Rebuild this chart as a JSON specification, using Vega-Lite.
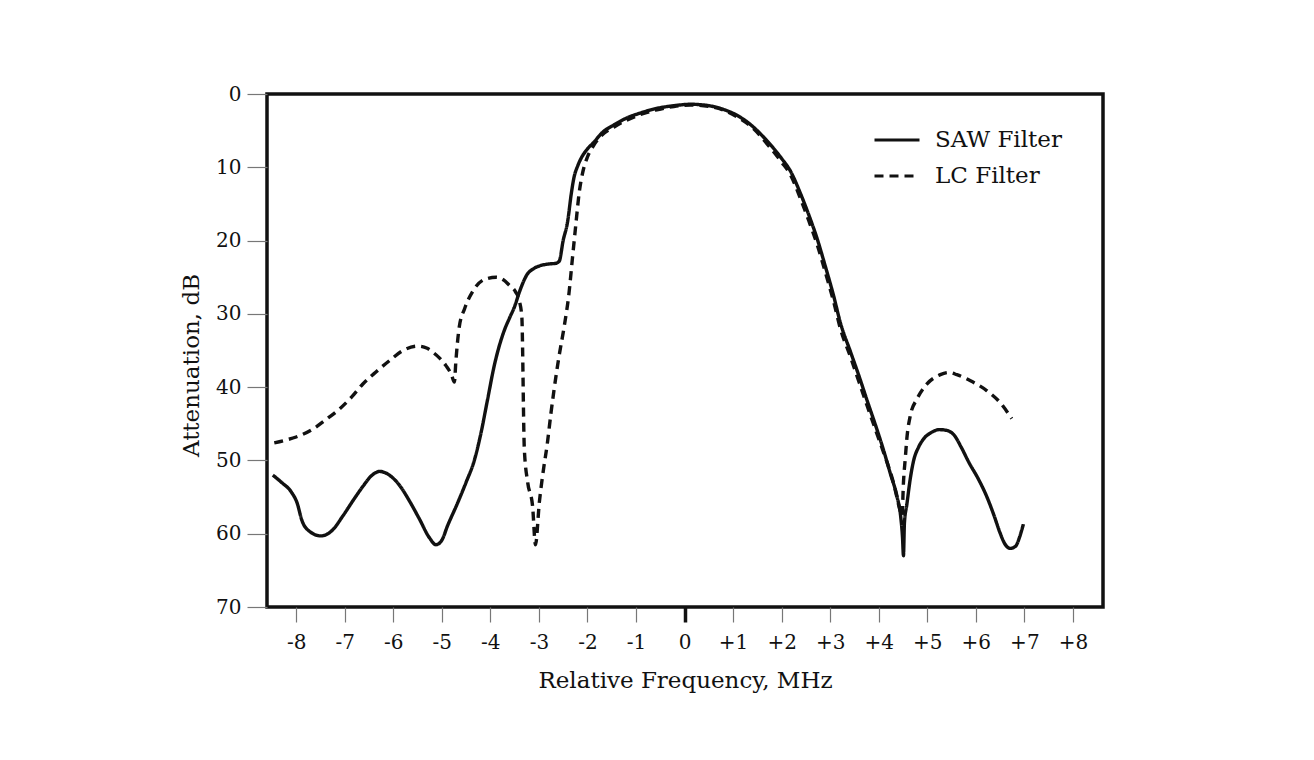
{
  "$schema": "https://vega.github.io/schema/vega-lite/v6.json",
  "width": 836,
  "height": 513,
  "autosize": {"type": "none"},
  "padding": {"left": 267, "top": 94, "right": 211, "bottom": 153},
  "background": "white",
  "config": {
    "font": "DejaVu Serif",
    "view": {"stroke": "#111", "strokeWidth": 3.5},
    "legend": {
      "orient": "none",
      "legendX": 606,
      "legendY": 22,
      "padding": 0,
      "symbolType": "stroke",
      "symbolSize": 2025,
      "symbolStrokeWidth": 3,
      "symbolStrokeColor": "#111",
      "labelFont": "DejaVu Serif",
      "labelFontSize": 23,
      "labelColor": "#111",
      "labelOffset": 14,
      "rowPadding": -8
    }
  },
  "data": {
    "values": [
      {"f": "SAW Filter", "x": -8.48, "y": 52.0},
      {"f": "SAW Filter", "x": -8.3, "y": 53.0},
      {"f": "SAW Filter", "x": -8.1, "y": 54.3},
      {"f": "SAW Filter", "x": -7.98, "y": 55.8},
      {"f": "SAW Filter", "x": -7.88, "y": 58.2},
      {"f": "SAW Filter", "x": -7.72, "y": 59.7},
      {"f": "SAW Filter", "x": -7.49, "y": 60.3},
      {"f": "SAW Filter", "x": -7.25, "y": 59.5},
      {"f": "SAW Filter", "x": -7.04, "y": 57.6},
      {"f": "SAW Filter", "x": -6.82, "y": 55.4},
      {"f": "SAW Filter", "x": -6.62, "y": 53.5},
      {"f": "SAW Filter", "x": -6.45, "y": 52.1},
      {"f": "SAW Filter", "x": -6.28, "y": 51.5},
      {"f": "SAW Filter", "x": -6.08, "y": 52.0},
      {"f": "SAW Filter", "x": -5.87, "y": 53.4},
      {"f": "SAW Filter", "x": -5.66, "y": 55.6},
      {"f": "SAW Filter", "x": -5.46, "y": 58.0},
      {"f": "SAW Filter", "x": -5.25, "y": 60.6},
      {"f": "SAW Filter", "x": -5.12, "y": 61.5},
      {"f": "SAW Filter", "x": -5.0, "y": 60.9},
      {"f": "SAW Filter", "x": -4.88, "y": 58.9},
      {"f": "SAW Filter", "x": -4.68, "y": 55.9},
      {"f": "SAW Filter", "x": -4.5, "y": 53.0},
      {"f": "SAW Filter", "x": -4.33, "y": 50.0},
      {"f": "SAW Filter", "x": -4.2, "y": 46.5},
      {"f": "SAW Filter", "x": -4.06, "y": 41.8},
      {"f": "SAW Filter", "x": -3.92, "y": 37.1},
      {"f": "SAW Filter", "x": -3.72, "y": 32.4},
      {"f": "SAW Filter", "x": -3.6, "y": 30.5},
      {"f": "SAW Filter", "x": -3.5, "y": 29.0},
      {"f": "SAW Filter", "x": -3.4, "y": 27.0},
      {"f": "SAW Filter", "x": -3.24, "y": 24.6},
      {"f": "SAW Filter", "x": -3.1, "y": 23.8},
      {"f": "SAW Filter", "x": -2.96, "y": 23.4},
      {"f": "SAW Filter", "x": -2.8, "y": 23.2},
      {"f": "SAW Filter", "x": -2.65, "y": 23.1},
      {"f": "SAW Filter", "x": -2.58, "y": 22.8},
      {"f": "SAW Filter", "x": -2.5, "y": 20.0},
      {"f": "SAW Filter", "x": -2.41, "y": 17.5},
      {"f": "SAW Filter", "x": -2.33, "y": 13.5},
      {"f": "SAW Filter", "x": -2.28, "y": 11.5},
      {"f": "SAW Filter", "x": -2.2, "y": 9.8},
      {"f": "SAW Filter", "x": -2.14, "y": 8.9},
      {"f": "SAW Filter", "x": -2.0, "y": 7.5},
      {"f": "SAW Filter", "x": -1.87, "y": 6.6},
      {"f": "SAW Filter", "x": -1.7, "y": 5.3},
      {"f": "SAW Filter", "x": -1.45, "y": 4.2},
      {"f": "SAW Filter", "x": -1.2, "y": 3.3},
      {"f": "SAW Filter", "x": -0.91, "y": 2.6},
      {"f": "SAW Filter", "x": -0.6, "y": 2.0},
      {"f": "SAW Filter", "x": -0.22, "y": 1.6},
      {"f": "SAW Filter", "x": 0.12, "y": 1.4},
      {"f": "SAW Filter", "x": 0.4, "y": 1.5},
      {"f": "SAW Filter", "x": 0.8, "y": 2.1},
      {"f": "SAW Filter", "x": 1.08, "y": 2.9},
      {"f": "SAW Filter", "x": 1.4, "y": 4.4},
      {"f": "SAW Filter", "x": 1.7, "y": 6.4},
      {"f": "SAW Filter", "x": 2.0, "y": 8.8},
      {"f": "SAW Filter", "x": 2.18, "y": 10.5},
      {"f": "SAW Filter", "x": 2.39, "y": 13.6},
      {"f": "SAW Filter", "x": 2.56, "y": 16.5},
      {"f": "SAW Filter", "x": 2.73, "y": 19.7},
      {"f": "SAW Filter", "x": 2.9, "y": 23.5},
      {"f": "SAW Filter", "x": 3.07, "y": 27.5},
      {"f": "SAW Filter", "x": 3.21, "y": 31.2},
      {"f": "SAW Filter", "x": 3.42, "y": 35.2},
      {"f": "SAW Filter", "x": 3.6, "y": 38.6},
      {"f": "SAW Filter", "x": 3.76, "y": 41.8},
      {"f": "SAW Filter", "x": 3.95, "y": 45.5},
      {"f": "SAW Filter", "x": 4.1, "y": 48.6},
      {"f": "SAW Filter", "x": 4.24, "y": 51.8},
      {"f": "SAW Filter", "x": 4.38, "y": 55.0},
      {"f": "SAW Filter", "x": 4.45, "y": 57.5},
      {"f": "SAW Filter", "x": 4.49, "y": 60.5},
      {"f": "SAW Filter", "x": 4.51, "y": 63.0},
      {"f": "SAW Filter", "x": 4.53, "y": 58.5},
      {"f": "SAW Filter", "x": 4.58, "y": 56.0},
      {"f": "SAW Filter", "x": 4.65, "y": 52.5},
      {"f": "SAW Filter", "x": 4.72, "y": 50.0},
      {"f": "SAW Filter", "x": 4.82, "y": 48.2},
      {"f": "SAW Filter", "x": 4.92, "y": 47.1},
      {"f": "SAW Filter", "x": 5.08, "y": 46.2},
      {"f": "SAW Filter", "x": 5.25, "y": 45.8},
      {"f": "SAW Filter", "x": 5.4, "y": 45.9},
      {"f": "SAW Filter", "x": 5.56, "y": 46.6},
      {"f": "SAW Filter", "x": 5.7, "y": 48.2},
      {"f": "SAW Filter", "x": 5.86, "y": 50.3},
      {"f": "SAW Filter", "x": 6.05, "y": 52.5},
      {"f": "SAW Filter", "x": 6.23, "y": 55.0},
      {"f": "SAW Filter", "x": 6.38, "y": 57.6},
      {"f": "SAW Filter", "x": 6.5, "y": 59.9},
      {"f": "SAW Filter", "x": 6.6, "y": 61.4},
      {"f": "SAW Filter", "x": 6.71, "y": 62.0},
      {"f": "SAW Filter", "x": 6.82, "y": 61.7},
      {"f": "SAW Filter", "x": 6.9, "y": 60.5},
      {"f": "SAW Filter", "x": 6.98, "y": 58.7},

      {"f": "LC Filter", "x": -8.45, "y": 47.6},
      {"f": "LC Filter", "x": -8.2, "y": 47.2},
      {"f": "LC Filter", "x": -8.0, "y": 46.8},
      {"f": "LC Filter", "x": -7.65, "y": 45.7},
      {"f": "LC Filter", "x": -7.4, "y": 44.5},
      {"f": "LC Filter", "x": -7.11, "y": 43.0},
      {"f": "LC Filter", "x": -6.85, "y": 41.3},
      {"f": "LC Filter", "x": -6.63, "y": 39.6},
      {"f": "LC Filter", "x": -6.35, "y": 37.9},
      {"f": "LC Filter", "x": -6.08, "y": 36.4},
      {"f": "LC Filter", "x": -5.8, "y": 35.0},
      {"f": "LC Filter", "x": -5.49, "y": 34.4},
      {"f": "LC Filter", "x": -5.3, "y": 34.7},
      {"f": "LC Filter", "x": -5.19, "y": 35.2},
      {"f": "LC Filter", "x": -5.05, "y": 36.0},
      {"f": "LC Filter", "x": -4.91, "y": 37.1},
      {"f": "LC Filter", "x": -4.8, "y": 38.3},
      {"f": "LC Filter", "x": -4.74, "y": 39.3},
      {"f": "LC Filter", "x": -4.71, "y": 36.5},
      {"f": "LC Filter", "x": -4.64, "y": 31.8},
      {"f": "LC Filter", "x": -4.53, "y": 29.3},
      {"f": "LC Filter", "x": -4.36, "y": 26.9},
      {"f": "LC Filter", "x": -4.12, "y": 25.3},
      {"f": "LC Filter", "x": -3.88, "y": 25.0},
      {"f": "LC Filter", "x": -3.72, "y": 25.4},
      {"f": "LC Filter", "x": -3.61, "y": 26.1},
      {"f": "LC Filter", "x": -3.48, "y": 27.0},
      {"f": "LC Filter", "x": -3.4, "y": 28.3},
      {"f": "LC Filter", "x": -3.35, "y": 30.5},
      {"f": "LC Filter", "x": -3.335, "y": 34.8},
      {"f": "LC Filter", "x": -3.325, "y": 39.3},
      {"f": "LC Filter", "x": -3.315, "y": 43.9},
      {"f": "LC Filter", "x": -3.3, "y": 48.4},
      {"f": "LC Filter", "x": -3.23, "y": 53.0},
      {"f": "LC Filter", "x": -3.13, "y": 56.2},
      {"f": "LC Filter", "x": -3.07, "y": 61.5},
      {"f": "LC Filter", "x": -2.99, "y": 55.7},
      {"f": "LC Filter", "x": -2.9, "y": 51.0},
      {"f": "LC Filter", "x": -2.83, "y": 47.9},
      {"f": "LC Filter", "x": -2.75, "y": 43.5},
      {"f": "LC Filter", "x": -2.69, "y": 40.5},
      {"f": "LC Filter", "x": -2.59, "y": 36.0},
      {"f": "LC Filter", "x": -2.48, "y": 31.8},
      {"f": "LC Filter", "x": -2.38, "y": 27.2},
      {"f": "LC Filter", "x": -2.31, "y": 22.5},
      {"f": "LC Filter", "x": -2.24, "y": 17.9},
      {"f": "LC Filter", "x": -2.17, "y": 13.5},
      {"f": "LC Filter", "x": -2.1, "y": 10.8},
      {"f": "LC Filter", "x": -2.0, "y": 8.6},
      {"f": "LC Filter", "x": -1.87, "y": 7.0},
      {"f": "LC Filter", "x": -1.7, "y": 5.6},
      {"f": "LC Filter", "x": -1.45, "y": 4.5},
      {"f": "LC Filter", "x": -1.2, "y": 3.6},
      {"f": "LC Filter", "x": -0.91, "y": 2.8},
      {"f": "LC Filter", "x": -0.6, "y": 2.2},
      {"f": "LC Filter", "x": -0.22, "y": 1.7},
      {"f": "LC Filter", "x": 0.12, "y": 1.5},
      {"f": "LC Filter", "x": 0.4, "y": 1.6},
      {"f": "LC Filter", "x": 0.8, "y": 2.2},
      {"f": "LC Filter", "x": 1.08, "y": 3.1},
      {"f": "LC Filter", "x": 1.4, "y": 4.6},
      {"f": "LC Filter", "x": 1.7, "y": 6.8},
      {"f": "LC Filter", "x": 2.0, "y": 9.3},
      {"f": "LC Filter", "x": 2.18, "y": 11.0},
      {"f": "LC Filter", "x": 2.39, "y": 14.3},
      {"f": "LC Filter", "x": 2.56, "y": 17.3},
      {"f": "LC Filter", "x": 2.73, "y": 20.5},
      {"f": "LC Filter", "x": 2.9, "y": 24.3},
      {"f": "LC Filter", "x": 3.07, "y": 28.3},
      {"f": "LC Filter", "x": 3.21, "y": 32.0},
      {"f": "LC Filter", "x": 3.42, "y": 35.9},
      {"f": "LC Filter", "x": 3.6, "y": 39.4},
      {"f": "LC Filter", "x": 3.76, "y": 42.5},
      {"f": "LC Filter", "x": 3.95, "y": 46.1},
      {"f": "LC Filter", "x": 4.1, "y": 48.9},
      {"f": "LC Filter", "x": 4.31, "y": 53.2},
      {"f": "LC Filter", "x": 4.44, "y": 56.8},
      {"f": "LC Filter", "x": 4.48, "y": 57.6},
      {"f": "LC Filter", "x": 4.51, "y": 53.0},
      {"f": "LC Filter", "x": 4.55, "y": 49.5},
      {"f": "LC Filter", "x": 4.58, "y": 47.0},
      {"f": "LC Filter", "x": 4.65, "y": 43.9},
      {"f": "LC Filter", "x": 4.79, "y": 41.6},
      {"f": "LC Filter", "x": 4.99, "y": 39.6},
      {"f": "LC Filter", "x": 5.27, "y": 38.3},
      {"f": "LC Filter", "x": 5.45, "y": 38.0},
      {"f": "LC Filter", "x": 5.61, "y": 38.3},
      {"f": "LC Filter", "x": 5.88, "y": 39.1},
      {"f": "LC Filter", "x": 6.23, "y": 40.5},
      {"f": "LC Filter", "x": 6.5, "y": 42.1},
      {"f": "LC Filter", "x": 6.74, "y": 44.3}
    ]
  },
  "mark": {"type": "line", "color": "#111", "strokeWidth": 3.4, "strokeCap": "butt", "strokeJoin": "round", "interpolate": "monotone"},
  "encoding": {
    "x": {
      "field": "x",
      "type": "quantitative",
      "scale": {"domain": [-8.6, 8.62], "nice": false, "zero": false},
      "axis": {
        "title": "Relative Frequency, MHz",
        "values": [-8, -7, -6, -5, -4, -3, -2, -1, 0, 1, 2, 3, 4, 5, 6, 7, 8],
        "labelExpr": "datum.value > 0 ? '+' + datum.value : (datum.value < 0 ? '-' + abs(datum.value) : '0')",
        "domain": false,
        "grid": false,
        "tickSize": 15,
        "tickColor": {"condition": {"test": "datum.value === 0", "value": "#111"}, "value": "#777"},
        "tickWidth": {"condition": {"test": "datum.value === 0", "value": 3.5}, "value": 1.2},
        "labelFont": "DejaVu Serif",
        "labelFontSize": 20,
        "labelColor": "#111",
        "labelPadding": 10,
        "titleFont": "DejaVu Serif",
        "titleFontSize": 23,
        "titleFontWeight": "normal",
        "titleColor": "#111",
        "titleBaseline": "alphabetic",
        "titleY": 80
      }
    },
    "y": {
      "field": "y",
      "type": "quantitative",
      "scale": {"domain": [0, 70], "reverse": true, "nice": false, "zero": false},
      "axis": {
        "title": "Attenuation, dB",
        "values": [0, 10, 20, 30, 40, 50, 60, 70],
        "domain": false,
        "grid": false,
        "tickSize": 20,
        "tickColor": "#777",
        "tickWidth": 1.2,
        "labelFont": "DejaVu Serif",
        "labelFontSize": 20,
        "labelColor": "#111",
        "labelPadding": 6,
        "titleFont": "DejaVu Serif",
        "titleFontSize": 23,
        "titleFontWeight": "normal",
        "titleColor": "#111",
        "titleBaseline": "alphabetic",
        "titleAlign": "center",
        "titleAngle": -90,
        "titleX": -69,
        "titleY": 271
      }
    },
    "strokeDash": {
      "field": "f",
      "type": "nominal",
      "scale": {"domain": ["SAW Filter", "LC Filter"], "range": [[1, 0], [9, 6]]},
      "legend": {"title": null}
    },
    "order": {"value": null}
  }
}
